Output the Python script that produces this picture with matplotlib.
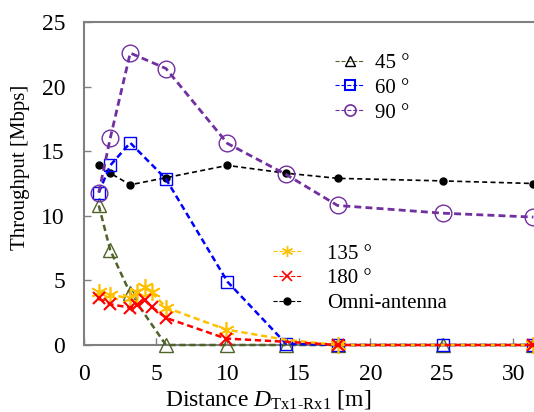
import matplotlib
matplotlib.use('Agg')
import matplotlib.pyplot as plt
from matplotlib.lines import Line2D

plt.rcParams['font.family'] = ['Liberation Serif', 'DejaVu Serif']
plt.rcParams['mathtext.fontset'] = 'custom'
plt.rcParams['mathtext.rm'] = 'Liberation Serif'
plt.rcParams['mathtext.it'] = 'Liberation Serif:italic'

# distances [m]
dist = [1.0, 1.8, 3.2, 5.7, 10.0, 14.1, 17.7, 25.1, 31.4]
dist_b = [1.0, 1.8, 3.2, 3.7, 4.2, 4.7, 5.7, 9.9, 14.1, 17.7, 31.4]

# throughput [Mbps]
thr45 = [10.8, 7.35, 4.0, 0, 0, 0, 0, 0, 0]
thr60 = [11.8, 13.9, 15.65, 12.85, 4.9, 0.1, 0, 0, 0]
thr90 = [11.8, 16.0, 22.6, 21.4, 15.6, 13.2, 10.8, 10.2, 9.9]
thr_omni = [13.9, 13.3, 12.4, 12.95, 13.9, 13.3, 12.9, 12.7, 12.5]
thr135 = [4.1, 3.9, 3.6, 4.1, 4.5, 4.1, 2.9, 1.2, 0.4, 0, 0]
thr180 = [3.6, 3.15, 2.9, 3.1, 3.5, 2.95, 2.1, 0.5, 0.25, 0, 0]

c45, c60, c90 = '#4F6228', '#0000FF', '#7030A0'
c135, c180 = '#FFC000', '#FF0000'
grey = '#808080'

fig = plt.figure(figsize=(5.34, 4.12), dpi=100)
ax = fig.add_axes([0.1582, 0.1626, 0.937, 0.784])

skip = [i for i in range(len(dist_b)) if i != 8]  # no marker at 14.1 m

ax.plot(dist, thr_omni, ls='--', dashes=(3, 2), lw=1.2, color='black',
        marker='o', ms=5, clip_on=False, zorder=3)
ax.plot(dist, thr45, ls='--', dashes=(2.5, 1.5), lw=1.8, color=c45,
        marker='^', ms=10, mfc='none', mec=c45, mew=1, clip_on=False, zorder=4)
ax.plot(dist, thr60, ls='--', dashes=(2.5, 1.5), lw=1.8, color=c60,
        marker='s', ms=9, mfc='none', mec=c60, mew=1, clip_on=False, zorder=4)
ax.plot(dist, thr90, ls='--', dashes=(2.5, 1.5), lw=2, color=c90,
        marker='o', ms=12, mfc='none', mec=c90, mew=1, clip_on=False, zorder=4)
ax.plot(dist_b, thr135, ls='--', dashes=(2.5, 1.5), lw=1.8, color=c135,
        marker=(6, 2, 0), ms=12, mew=1.2, markevery=skip, clip_on=False, zorder=5)
ax.plot(dist_b, thr180, ls='--', dashes=(2.5, 1.5), lw=1.8, color=c180,
        marker='x', ms=9, mew=1.5, markevery=skip, clip_on=False, zorder=6)

ax.set_xlim(0, 35)
ax.set_ylim(0, 25)
ax.set_xticks([0, 5, 10, 15, 20, 25, 30])
ax.set_yticks([0, 5, 10, 15, 20, 25])
ax.tick_params(direction='in', length=5, width=1, color=grey, labelsize=17,
               pad=14, top=False, right=False)
for s in ax.spines.values():
    s.set_color(grey)
    s.set_linewidth(1.5)

ax.set_ylabel('Throughput [Mbps]', fontsize=15)
ax.set_xlabel('Distance $D_{\\mathrm{Tx1\u2010Rx1}}$ [m]', fontsize=17)
ax.yaxis.set_label_coords(-0.108, 0.551)
ax.xaxis.set_label_coords(0.367, -0.132)

h1 = [
    Line2D([], [], color=c45, ls='--', lw=0.8, marker='^', ms=7, mfc='none', mec='black'),
    Line2D([], [], color=c60, ls='--', lw=0.8, marker='s', ms=7, mfc='none', mec=c60, mew=1.5),
    Line2D([], [], color=c90, ls='--', lw=0.8, marker='o', ms=8, mfc='none', mec=c90, mew=1.2),
]
leg1 = ax.legend(h1, ['45 \u00b0', '60 \u00b0', '90 \u00b0'], loc='upper left',
                 bbox_to_anchor=(0.48, 0.935), frameon=False, fontsize=15,
                 handlelength=1.4, handletextpad=0.5, labelspacing=0.25, borderpad=0)
ax.add_artist(leg1)

h2 = [
    Line2D([], [], color=c135, ls='--', lw=0.8, marker=(6, 2, 0), ms=8, mew=1),
    Line2D([], [], color=c180, ls='--', lw=0.8, marker='x', ms=7, mew=1.2),
    Line2D([], [], color='black', ls='--', lw=0.8, marker='o', ms=5),
]
ax.legend(h2, ['135 \u00b0', '180 \u00b0', 'Omni-antenna'], loc='upper left',
          bbox_to_anchor=(0.355, 0.345), frameon=False, fontsize=15,
          handlelength=1.4, handletextpad=1.2, labelspacing=0.25, borderpad=0)

fig.savefig('out.png', dpi=100)
